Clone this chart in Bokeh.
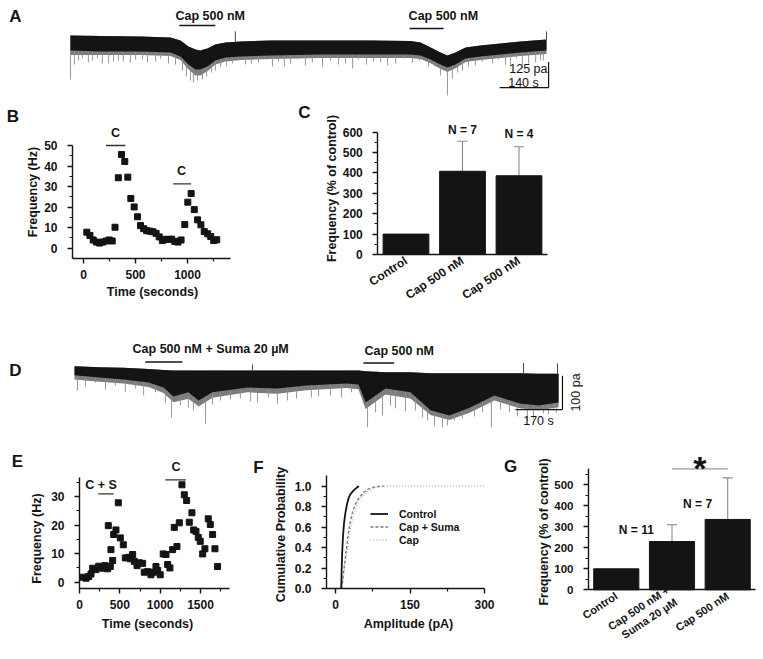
import math
import numpy as np
from bokeh.plotting import figure
from bokeh.layouts import column, row
from bokeh.models import (Range1d, Label, FixedTicker, Legend, LegendItem,
                          PrintfTickFormatter)
from bokeh.embed import file_html
from bokeh.resources import INLINE

FONT = "Liberation Sans"
INK = "#141414"

# ============================ DATA ============================
# ---- Panel A: recorded current (time in s, current in pA from baseline) ----
a_t = [0, 86, 200, 286, 314, 337, 357, 371, 391, 414, 443, 486, 571, 714, 857, 971,
       1000, 1029, 1057, 1077, 1100, 1129, 1171, 1229, 1286, 1360]
a_top = [0, -2, -5, -10, -24, -54, -68, -73, -63, -44, -34, -29, -24, -24, -24, -27,
         -34, -59, -83, -98, -83, -59, -49, -39, -29, -20]
a_bottom = [-73, -78, -78, -83, -102, -142, -166, -166, -151, -122, -107, -102, -98, -93, -93, -93,
            -98, -117, -142, -156, -142, -112, -102, -93, -83, -73]
a_fringe = [-95, -95, -95, -100, -120, -165, -195, -195, -175, -142, -127, -120, -115, -110, -110, -110,
            -115, -135, -162, -178, -160, -130, -120, -110, -100, -90]
a_spike_t = [0, 11, 23, 34, 51, 63, 77, 91, 109, 123, 137, 151, 171, 186, 206, 220, 243, 257, 280, 300,
             320, 331, 343, 351, 363, 377, 389, 403, 414, 429, 446, 463, 480, 500, 517, 537, 554, 577,
             594, 611, 629, 649, 671, 691, 720, 743, 766, 786, 806, 823, 846, 866, 886, 906, 929, 951,
             977, 997, 1023, 1040, 1057, 1077, 1091, 1106, 1120, 1137, 1157, 1177, 1206, 1223, 1243,
             1257, 1274, 1291, 1309, 1329, 1343, 1351]
a_spike_pa = [-215, -142, -122, -112, -132, -122, -112, -137, -137, -127, -122, -127, -132, -117, -117,
              -132, -127, -112, -137, -142, -171, -200, -220, -229, -220, -215, -200, -181, -171, -151,
              -151, -137, -122, -142, -137, -132, -112, -151, -127, -151, -137, -117, -146, -132, -151,
              -122, -142, -137, -161, -117, -142, -127, -132, -146, -137, -112, -132, -122, -151, -151,
              -195, -293, -210, -181, -171, -151, -146, -127, -137, -117, -142, -151, -112, -161, -137,
              -132, -122, -122]
a_up_t = [471, 1360]
a_up_pa = [20, 20]
a_app_text = ["Cap 500 nM", "Cap 500 nM"]
a_app_start = [311, 969]
a_app_end = [414, 1066]
a_app_level = [49, 34]
a_text_t = [300, 966]
a_text_level = [94, 94]
a_scale_pa, a_scale_s = 125, 140
a_scale_corner = (1366, -255)

# ---- Panel B: event frequency vs time ----
b_time = [32, 62, 93, 124, 155, 186, 217, 248, 276, 303, 335, 365, 397, 426, 455, 487, 519, 548,
          578, 608, 638, 668, 698, 728, 758, 788, 818, 848, 878, 908, 938, 974, 1003, 1035, 1065,
          1097, 1129, 1161, 1194, 1223, 1252, 1281]
b_freq = [7.8, 6.2, 4.0, 3.0, 2.5, 3.0, 3.5, 4.0, 3.5, 10.2, 34.3, 45.6, 42.2, 34.6, 24.2, 20.1,
          15.3, 11.0, 9.5, 8.5, 8.3, 8.0, 7.2, 5.5, 3.7, 4.3, 4.3, 4.4, 3.3, 3.0, 4.0, 11.5, 22.4,
          26.6, 18.8, 13.8, 11.4, 8.1, 7.0, 5.7, 3.7, 4.1]
b_app_start = [216, 862]
b_app_end = [403, 1035]
b_app_level = [50, 31.3]
b_app_label = ["C", "C"]
b_label_t = [308, 942]
b_label_level = [56.3, 37.5]
b_xticks, b_xminor = [0, 500, 1000], [250, 750, 1250]
b_yticks, b_yminor = [0, 10, 20, 30, 40, 50], [5, 15, 25, 35, 45]

# ---- Panel C: normalised frequency ----
c_groups = ["Control", "Cap 500 nM", "Cap 500 nM"]
c_mean = [100, 408, 386]
c_sem = [0, 147, 142]
c_n_text = ["", "N = 7", "N = 4"]
c_n_level = [0, 610, 593]
c_yticks, c_yminor = [0, 100, 200, 300, 400, 500, 600], [50, 150, 250, 350, 450, 550]

# ---- Panel D: recorded current ----
d_t = [0, 90, 177, 268, 322, 358, 412, 449, 499, 626, 734, 839, 984, 1027, 1053, 1125, 1215, 1288,
       1356, 1429, 1519, 1610, 1678, 1751]
d_top = [1, -2, -4, -7, -10, -12, -12, -12, -12, -12, -12, -12, -12, -12, -14, -17, -17, -20, -20,
         -20, -20, -20, -21, -21]
d_bottom = [-26, -32, -38, -47, -62, -88, -76, -100, -76, -62, -65, -56, -50, -53, -106, -65, -76,
            -129, -144, -121, -85, -109, -115, -106]
d_fringe = [-38, -45, -50, -60, -78, -105, -95, -118, -92, -76, -80, -70, -63, -67, -125, -82, -94,
            -143, -157, -136, -100, -123, -129, -120]
d_spike_t = [11, 40, 76, 112, 148, 184, 221, 250, 293, 329, 351, 383, 412, 430, 474, 499, 528, 564,
             600, 637, 662, 702, 734, 770, 803, 857, 883, 926, 966, 1002, 1034, 1060, 1089, 1114, 1143,
             1161, 1197, 1233, 1259, 1277, 1302, 1331, 1349, 1374, 1403, 1447, 1476, 1508, 1541, 1573,
             1602, 1638, 1660, 1696, 1714, 1733, 1743]
d_spike_pa = [-71, -59, -47, -68, -56, -74, -65, -85, -76, -106, -150, -115, -121, -129, -168, -112,
              -100, -97, -94, -103, -106, -91, -109, -100, -94, -91, -88, -85, -91, -76, -82, -179, -135,
              -144, -115, -123, -132, -129, -150, -159, -176, -179, -173, -159, -153, -147, -135, -179,
              -126, -135, -147, -159, -153, -138, -141, -129, -135]
d_up_t = [644, 1624, 1747]
d_up_pa = [6, 10, 9]
d_app_text = ["Cap 500 nM + Suma 20 µM", "Cap 500 nM"]
d_app_start = [256, 1045]
d_app_end = [390, 1156]
d_app_level = [13, 10]
d_text_t = [210, 1049]
d_text_level = [52, 47]
d_scale_pa, d_scale_s = 100, 170
d_scale_corner = (1765, -127)

# ---- Panel E: event frequency vs time ----
e_time = [40, 81, 114, 143, 163, 204, 238, 287, 316, 349, 382, 411, 357, 390, 424, 452, 481, 506,
          543, 568, 605, 630, 659, 679, 713, 741, 783, 803, 845, 886, 919, 948, 969, 1001, 1038,
          1072, 1093, 1121, 1155, 1175, 1208, 1237, 1270, 1299, 1328, 1361, 1394, 1415, 1444, 1472,
          1497, 1527, 1555, 1596, 1621, 1650, 1679, 1712]
e_freq = [1.75, 1.4, 2.0, 2.9, 4.9, 4.4, 5.6, 4.9, 5.8, 4.7, 5.5, 7.6, 19.8, 11.4, 16.7, 18.3, 27.8,
          15.5, 13.1, 8.5, 8.7, 8.2, 9.7, 7.3, 5.8, 6.8, 6.6, 3.5, 3.7, 2.6, 3.5, 5.5, 4.1, 2.6, 9.9,
          9.7, 6.2, 5.0, 11.4, 19.2, 12.5, 20.8, 34.1, 30.6, 28.6, 21.0, 24.3, 18.3, 17.8, 15.7, 14.3,
          9.9, 11.7, 22.2, 20.2, 16.7, 11.7, 5.5]
e_app_text = ["C + S", "C"]
e_app_start = [233, 1063]
e_app_end = [424, 1320]
e_app_level = [30.9, 35.8]
e_label_t = [266, 1196]
e_label_level = [34.2, 40.2]
e_xticks, e_xminor = [0, 500, 1000, 1500], [250, 750, 1250, 1750]
e_yticks, e_yminor = [0, 10, 20, 30], [5, 15, 25, 35]

# ---- Panel F: cumulative amplitude distributions ----
f_ctrl_amp = [11.5, 12, 12.5, 13.5, 15, 17, 20, 23.5, 27, 30, 37, 47]
f_ctrl_p = [0.0, 0.1, 0.2, 0.35, 0.5, 0.63, 0.74, 0.83, 0.89, 0.92, 0.96, 1.0]
f_cs_amp = [12, 14.5, 16.8, 18.8, 20.8, 23.5, 26.8, 30, 33.5, 38, 43.6, 50, 57, 66, 77, 97]
f_cs_p = [0.0, 0.08, 0.18, 0.26, 0.34, 0.45, 0.57, 0.66, 0.73, 0.8, 0.86, 0.9, 0.94, 0.97, 0.99, 1.0]
f_cap_amp = [12.5, 15.5, 18, 20.5, 23, 26, 30, 33.5, 37.5, 42, 48, 55, 63, 73, 86, 100, 300]
f_cap_p = [0.0, 0.08, 0.18, 0.26, 0.34, 0.45, 0.57, 0.66, 0.73, 0.8, 0.86, 0.9, 0.94, 0.97, 0.99,
           1.0, 1.0]
f_xticks, f_xminor = [0, 150, 300], [75, 225]
f_yticks, f_yminor = [0, 0.2, 0.4, 0.6, 0.8, 1.0], [0.1, 0.3, 0.5, 0.7, 0.9]

# ---- Panel G: normalised frequency ----
g_groups = ["Control", "Cap 500 nM +\nSuma 20 µM", "Cap 500 nM"]
g_mean = [100, 230, 335]
g_sem = [0, 80, 198]
g_n_text = ["N = 11", "N = 7"]
g_n_x = [1.36, 2.46]
g_n_level = [287, 410]
g_sig_from, g_sig_to, g_sig_level = 2, 3, 576
g_yticks, g_yminor = [0, 100, 200, 300, 400, 500], [50, 150, 250, 350, 450, 550]


# ============================ HELPERS ============================
class Panel:
    """A figure covering a page-pixel box; cal_* map two page pixels to two data values."""

    def __init__(self, canvas, cal_x, cal_y):
        cl, ct, cr, cb = canvas
        (self.xa, self.va), (xb, vb) = cal_x
        (self.ya, self.wa), (yb, wb) = cal_y
        self.kx = (vb - self.va) / (xb - self.xa)
        self.ky = (wb - self.wa) / (yb - self.ya)
        p = figure(width=cr - cl, height=cb - ct,
                   x_range=Range1d(self.X(cl), self.X(cr)),
                   y_range=Range1d(self.Y(cb), self.Y(ct)),
                   output_backend="svg", toolbar_location=None, title=None,
                   min_border=0, min_border_left=0, min_border_right=0,
                   min_border_top=0, min_border_bottom=0)
        p.outline_line_color = None
        p.xgrid.grid_line_color = None
        p.ygrid.grid_line_color = None
        p.background_fill_color = "white"
        p.border_fill_color = "white"
        self.p = p

    def X(self, px):
        return self.va + (px - self.xa) * self.kx

    def Y(self, py):
        return self.wa + (py - self.ya) * self.ky

    def text(self, px, py, s, size="12.5px", align="center", baseline="middle",
             angle=0.0, style="bold", color=INK):
        self.label(self.X(px), self.Y(py), s, size, align, baseline, angle, style, color)

    def label(self, x, y, s, size="12.5px", align="center", baseline="middle",
              angle=0.0, style="bold", color=INK):
        self.p.add_layout(Label(x=x, y=y, text=s, text_font=FONT, text_font_style=style,
                                text_font_size=size, text_align=align,
                                text_baseline=baseline, angle=angle, text_color=color))

    def hide_axes(self):
        self.p.xaxis.visible = False
        self.p.yaxis.visible = False


def style_axis(ax, loc, bounds, ticks=None, minor=None, size="12px", standoff=10):
    ax.fixed_location = loc
    ax.bounds = bounds
    ax.axis_line_color = INK
    ax.axis_line_width = 1.4
    ax.major_tick_line_color = INK
    ax.major_tick_line_width = 1.4
    ax.minor_tick_line_color = INK
    ax.minor_tick_line_width = 1.2
    ax.major_tick_in = 0
    ax.major_tick_out = 5
    ax.minor_tick_in = 0
    ax.minor_tick_out = 3
    ax.major_label_text_font = FONT
    ax.major_label_text_font_style = "bold"
    ax.major_label_text_font_size = size
    ax.major_label_text_color = INK
    ax.major_label_standoff = standoff
    if ticks is not None:
        ax.ticker = FixedTicker(ticks=ticks, minor_ticks=minor or [])


def trace(P, t, top, bottom, fringe, spike_t, spike_pa, up_t, up_pa):
    p = P.p
    p.varea(x=t, y1=top, y2=fringe, color="#7c7c7c")
    p.segment(x0=spike_t, y0=np.interp(spike_t, t, top), x1=spike_t, y1=spike_pa,
              line_color="#8c8c8c", line_width=0.9)
    p.varea(x=t, y1=top, y2=bottom, color=INK)
    p.segment(x0=up_t, y0=np.interp(up_t, t, top), x1=up_t, y1=up_pa,
              line_color="#444444", line_width=1)


def scale_bar(P, corner, len_pa, len_s):
    sx, sy = corner
    P.p.segment(x0=[sx, sx - len_s], y0=[sy + len_pa, sy], x1=[sx, sx], y1=[sy, sy],
                line_color=INK, line_width=1.2)


def bars(P, means, sems, width):
    p = P.p
    xs = list(range(1, len(means) + 1))
    ex = [x for x, s in zip(xs, sems) if s > 0]
    em = [m for m, s in zip(means, sems) if s > 0]
    et = [m + s for m, s in zip(means, sems) if s > 0]
    p.segment(x0=ex, y0=em, x1=ex, y1=et, line_color="#8a8a8a", line_width=1.1)
    p.segment(x0=[x - 0.09 for x in ex], y0=et, x1=[x + 0.09 for x in ex], y1=et,
              line_color="#8a8a8a", line_width=1.1)
    p.vbar(x=xs, top=means, bottom=0, width=width, color=INK)


ROT = 0.58

# ============================ PANEL A ============================
A = Panel((0, 0, 763, 100), cal_x=((70, 0), (119, 140)), cal_y=((35, 0), (60.6, -125)))
A.hide_axes()
trace(A, a_t, a_top, a_bottom, a_fringe, a_spike_t, a_spike_pa, a_up_t, a_up_pa)
A.p.segment(x0=a_app_start, y0=a_app_level, x1=a_app_end, y1=a_app_level, line_color=INK, line_width=1.5)
for t, lv, s in zip(a_text_t, a_text_level, a_app_text):
    A.label(t, lv, s, size="12.5px", align="left")
scale_bar(A, a_scale_corner, a_scale_pa, a_scale_s)
A.text(547, 68, f"{a_scale_pa} pa", size="12.5px", align="right", style="normal")
A.text(523, 82, f"{a_scale_s} s", size="12.5px", style="normal")
A.text(15, 16, "A", size="17px")

# ============================ PANEL B ============================
B = Panel((0, 100, 260, 310), cal_x=((83, 0), (187, 1000)), cal_y=((247.7, 0), (145, 50)))
pb = B.p
pb.segment(x0=b_app_start, y0=b_app_level, x1=b_app_end, y1=b_app_level, line_color="#333333", line_width=1.3)
pb.scatter(b_time, b_freq, marker="square", size=6, color=INK)
for t, lv, s in zip(b_label_t, b_label_level, b_app_label):
    B.label(t, lv, s)
style_axis(pb.xaxis[0], B.Y(258), (B.X(72), B.X(230)), b_xticks, b_xminor, standoff=6)
style_axis(pb.yaxis[0], B.X(72), (B.Y(258), max(b_yticks)), b_yticks, b_yminor)
B.text(152, 291.5, "Time (seconds)")
B.text(32, 191.5, "Frequency (Hz)", angle=math.pi / 2)
B.text(12.5, 116, "B", size="17px")

# ============================ PANEL C ============================
C = Panel((260, 100, 763, 310), cal_x=((405.5, 1), (462, 2)), cal_y=((254, 0), (131.6, 600)))
pc = C.p
bars(C, c_mean, c_sem, 0.81)
for i, (s, lv) in enumerate(zip(c_n_text, c_n_level)):
    if s:
        C.label(i + 1, lv, s, size="12px")
style_axis(pc.yaxis[0], 0.5, (0, max(c_yticks)), c_yticks, c_yminor)
style_axis(pc.xaxis[0], 0, (0.5, 3.5), [1, 2, 3], [], size="12px", standoff=5)
pc.xaxis[0].major_tick_out = 0
pc.xaxis[0].major_label_overrides = {i + 1: g for i, g in enumerate(c_groups)}
pc.xaxis[0].major_label_orientation = ROT
C.text(331, 188, "Frequency (% of control)", angle=math.pi / 2)
C.text(304, 112, "C", size="17px")

# ============================ PANEL D ============================
D = Panel((0, 310, 763, 445), cal_x=((74, 0), (121, 170)), cal_y=((366, 0), (400, -100)))
D.hide_axes()
trace(D, d_t, d_top, d_bottom, d_fringe, d_spike_t, d_spike_pa, d_up_t, d_up_pa)
D.p.segment(x0=d_app_start, y0=d_app_level, x1=d_app_end, y1=d_app_level, line_color=INK, line_width=1.5)
for t, lv, s in zip(d_text_t, d_text_level, d_app_text):
    D.label(t, lv, s, size="12.5px", align="left")
scale_bar(D, d_scale_corner, d_scale_pa, d_scale_s)
D.text(575, 392, f"{d_scale_pa} pa", size="12.5px", angle=math.pi / 2, style="normal")
D.text(538, 420, f"{d_scale_s} s", size="12.5px", style="normal")
D.text(15, 370, "D", size="17px")

# ============================ PANEL E ============================
E = Panel((0, 445, 250, 657), cal_x=((79, 0), (200, 1500)), cal_y=((581.7, 0), (496, 30)))
pe = E.p
pe.segment(x0=e_app_start, y0=e_app_level, x1=e_app_end, y1=e_app_level, line_color="#333333", line_width=1.3)
pe.scatter(e_time, e_freq, marker="square", size=6, color=INK)
for t, lv, s in zip(e_label_t, e_label_level, e_app_text):
    E.label(t, lv, s)
style_axis(pe.xaxis[0], E.Y(588), (0, E.X(229)), e_xticks, e_xminor, standoff=6)
style_axis(pe.yaxis[0], 0, (E.Y(588), E.Y(477)), e_yticks, e_yminor)
E.text(147, 623.5, "Time (seconds)")
E.text(36.5, 538, "Frequency (Hz)", angle=math.pi / 2)
E.text(17, 461, "E", size="17px")

# ============================ PANEL F ============================
F = Panel((250, 445, 500, 657), cal_x=((335, 0), (484, 300)), cal_y=((588, 0), (485.5, 1.0)))
pf = F.p
r_cap = pf.line(f_cap_amp, f_cap_p, line_color="#b5b5b5", line_width=1.3, line_dash="1 2")
r_cs = pf.line(f_cs_amp, f_cs_p, line_color="#7a7a7a", line_width=1.3, line_dash="3 2")
r_ctrl = pf.line(f_ctrl_amp, f_ctrl_p, line_color=INK, line_width=1.8)
style_axis(pf.xaxis[0], 0, (F.X(326), 300), f_xticks, f_xminor, standoff=6)
style_axis(pf.yaxis[0], F.X(326), (0, 1.1), f_yticks, f_yminor)
pf.yaxis[0].formatter = PrintfTickFormatter(format="%.1f")
legend = Legend(items=[LegendItem(label="Control", renderers=[r_ctrl]),
                       LegendItem(label="Cap + Suma", renderers=[r_cs]),
                       LegendItem(label="Cap", renderers=[r_cap])],
                location=(370 - 250, 657 - 546), orientation="vertical", padding=0, margin=0,
                spacing=0, glyph_width=18, glyph_height=13, label_height=13, label_standoff=11,
                label_text_font=FONT, label_text_font_style="bold", label_text_font_size="10.5px",
                label_text_color=INK, border_line_color=None, background_fill_alpha=0)
pf.add_layout(legend)
F.text(408, 623.5, "Amplitude (pA)")
F.text(280, 534, "Cumulative Probability", angle=math.pi / 2)
F.text(258, 467, "F", size="17px")

# ============================ PANEL G ============================
G = Panel((500, 445, 763, 657), cal_x=((615.8, 1), (671.5, 2)), cal_y=((589.3, 0), (484.3, 500)))
pg = G.p
bars(G, g_mean, g_sem, 0.81)
for x, lv, s in zip(g_n_x, g_n_level, g_n_text):
    G.label(x, lv, s, size="12px")
pg.segment(x0=[g_sig_from], y0=[g_sig_level], x1=[g_sig_to], y1=[g_sig_level],
           line_color="#9a9a9a", line_width=1.2)
G.label((g_sig_from + g_sig_to) / 2, G.Y(467), "*", size="34px", baseline="alphabetic")
style_axis(pg.yaxis[0], G.X(588), (0, g_sig_level), g_yticks, g_yminor, size="11.5px")
style_axis(pg.xaxis[0], 0, (G.X(588), 3.5), [1, 2, 3], [], size="11px", standoff=5)
pg.xaxis[0].major_tick_out = 0
pg.xaxis[0].major_label_overrides = {i + 1: g for i, g in enumerate(g_groups)}
pg.xaxis[0].major_label_orientation = ROT
G.text(543, 531.5, "Frequency (% of control)", angle=math.pi / 2)
G.text(510, 466, "G", size="17px")

# ============================ LAYOUT ============================
page = column(A.p, row(B.p, C.p, spacing=0), D.p, row(E.p, F.p, G.p, spacing=0), spacing=0)
open("out.html", "w").write(file_html(page, INLINE))
